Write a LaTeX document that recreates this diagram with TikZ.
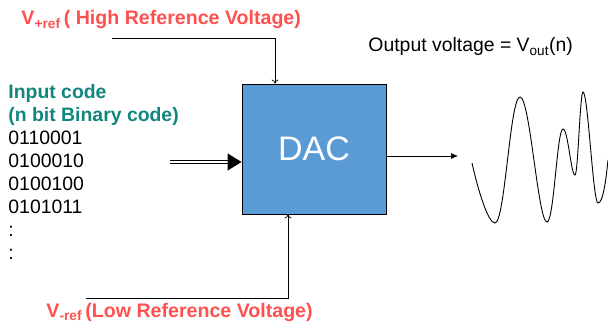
\documentclass[tikz,border=0pt]{standalone}
\usepackage{fontspec}
\setmainfont{Liberation Sans}
\usetikzlibrary{arrows,arrows.meta,positioning,calc}
\definecolor{dacblue}{RGB}{91,155,213}
\definecolor{refred}{RGB}{255,80,80}
\definecolor{codeteal}{RGB}{18,134,126}

\begin{document}
\begin{tikzpicture}[x=1pt, y=-1pt, >=latex', line width=0.9pt]

        \tikzstyle{block} = [draw, rectangle, fill=dacblue, text=white, minimum width=144pt, minimum height=130pt, font=\fontsize{34}{40}\selectfont]
        \tikzstyle{reftext} = [text=refred, font=\fontsize{19.6}{23}\selectfont\bfseries, inner sep=0pt, anchor=base west]
        \tikzstyle{plaintext} = [font=\fontsize{19.4}{23}\selectfont, inner sep=0pt]
        \tikzstyle{input} = [coordinate]
        \tikzstyle{output} = [coordinate]

        \useasboundingbox (0,0) rectangle (608,323);

        \node [block] (dac) at (314,149) {DAC};

        \node [reftext] (hightext) at (21,25) {V\textsubscript{+ref}\,( High Reference Voltage)};
        \node [reftext] (lowtext) at (46,317.5) {V\textsubscript{-ref}\,(Low Reference Voltage)};

        \node [plaintext, anchor=north west, align=left] (code) at (8,84)
            {\textcolor{codeteal}{\bfseries Input code}\\
             \textcolor{codeteal}{\bfseries (n bit Binary code)}\\
             0110001\\ 0100010\\ 0100100\\ 0101011\\ :\\ :};

        \node [plaintext, anchor=base west] (outtext) at (368,52) {Output voltage = V\textsubscript{out}(n)};

        \node [input] (hiref) at (112,38) {};
        \node [input] (loref) at (86,298) {};
        \node [input] (codein) at (170,162) {};
        \node [output] (vout) at (458,156) {};

        \draw [-{To[length=4pt,width=7pt]}, line width=0.7pt] (hiref) -| ([xshift=-39pt]dac.north);
        \draw [-{To[length=4pt,width=7pt]}, line width=0.7pt] (loref) -| ([xshift=-26pt]dac.south);
        \draw [double, double distance=1.6pt, line width=0.9pt, -{Triangle[length=14pt,width=17pt]}] (codein) -- (codein -| dac.west);
        \draw [-{Latex[length=7pt,width=6pt]}, line width=0.7pt] (dac.east |- vout) -- (vout);

        % output waveform
        \draw [line width=0.9pt] (472,163) .. controls (478,190) and (488,223) .. (495,223)
            .. controls (505,223) and (510,97) .. (520,97)
            .. controls (530,97) and (538,222) .. (547,222)
            .. controls (554,222) and (557,129) .. (563,129)
            .. controls (568,129) and (571,175) .. (575,175)
            .. controls (578,175) and (580,92) .. (583,92)
            .. controls (588,92) and (593,203) .. (598,203)
            .. controls (603,203) and (606,180) .. (608,160);

\end{tikzpicture}
\end{document}
